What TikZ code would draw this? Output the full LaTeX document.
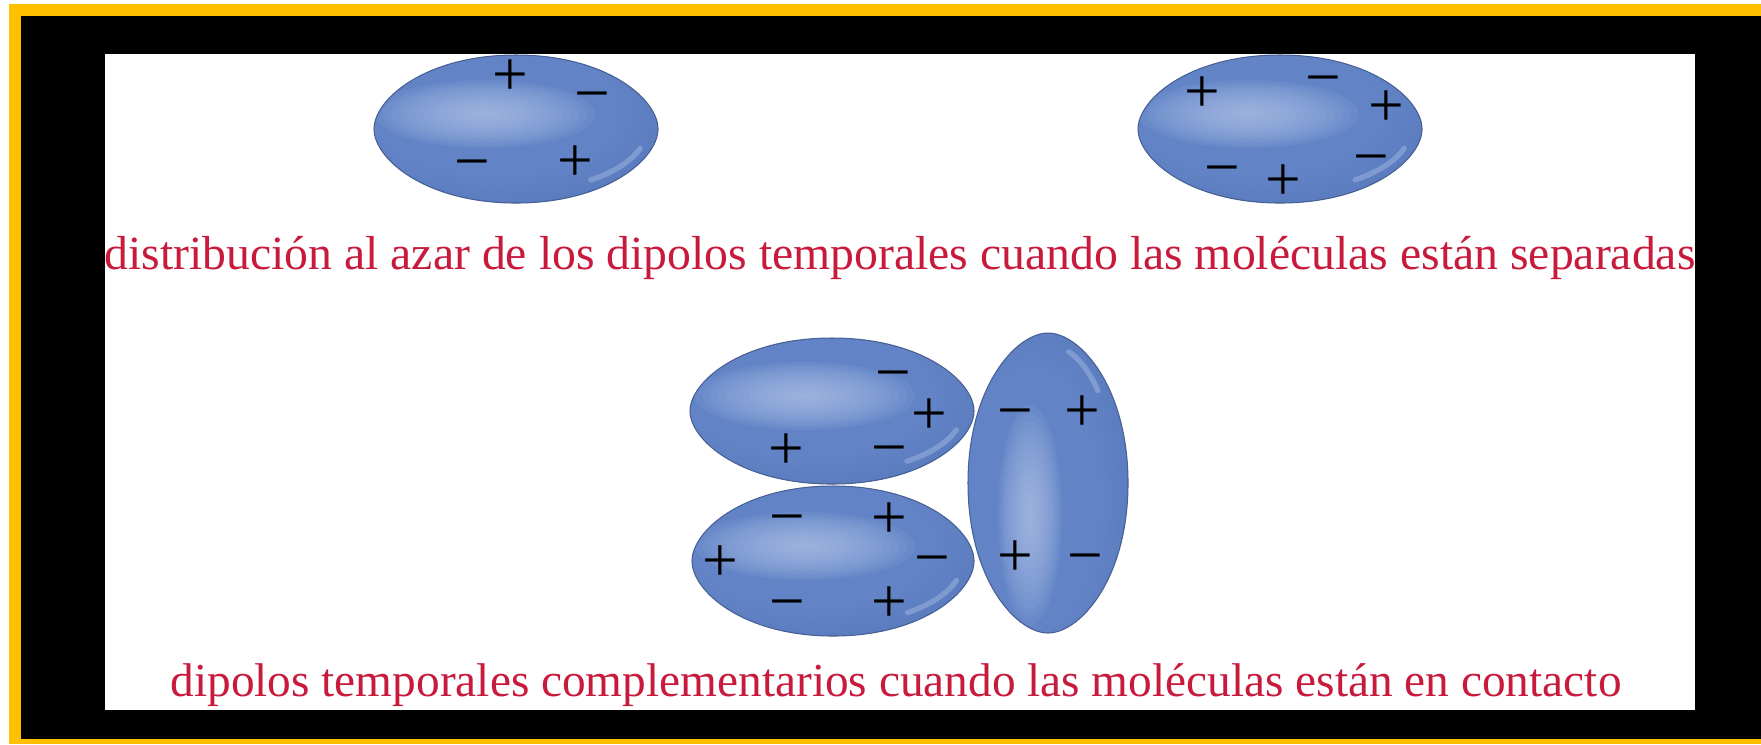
\documentclass[tikz,border=0pt]{standalone}
\usepackage{fontspec}
\setmainfont{Liberation Serif}
\newfontfamily\signfont{Liberation Serif}

\definecolor{frameyellow}{RGB}{255,192,0}
\definecolor{capred}{RGB}{200,26,60}
\definecolor{molbase}{RGB}{98,132,198}
\definecolor{molmid}{RGB}{82,114,180}
\definecolor{moldark}{RGB}{64,93,156}
\definecolor{mollight}{RGB}{180,198,236}
\definecolor{molline}{RGB}{72,96,148}

% body colour, lighter up and to the left, darker towards the rim
\pgfdeclareradialshading{molrim}{\pgfpoint{-6bp}{9bp}}{%
  color(0bp)=(molbase); color(22bp)=(molbase); color(40bp)=(molmid);
  color(50bp)=(moldark); color(70bp)=(moldark)}
\pgfdeclareradialshading{molrimv}{\pgfpoint{-8bp}{-4bp}}{%
  color(0bp)=(molbase); color(22bp)=(molbase); color(40bp)=(molmid);
  color(50bp)=(moldark); color(70bp)=(moldark)}

% a pointed ellipse: centre (#1,#2), radii #3,#4, end tightness #5,#6
\newcommand\lemonpath[6]{({#1+#3},{#2})
  .. controls ({#1+#3},{#2+#5*#4}) and ({#1+#6*#3},{#2+#4}) .. ({#1},{#2+#4})
  .. controls ({#1-#6*#3},{#2+#4}) and ({#1-#3},{#2+#5*#4}) .. ({#1-#3},{#2})
  .. controls ({#1-#3},{#2-#5*#4}) and ({#1-#6*#3},{#2-#4}) .. ({#1},{#2-#4})
  .. controls ({#1+#6*#3},{#2-#4}) and ({#1+#3},{#2-#5*#4}) .. ({#1+#3},{#2}) -- cycle}

% soft highlight: stacked translucent ellipses, centre (#1,#2), radii #3,#4
\newcommand\glow[4]{%
  \foreach \k in {1,...,14}{%
    \fill[mollight, opacity=0.09] (#1,#2) ellipse [x radius={#3*(1-(\k-1)/14)}, y radius={#4*(1-(\k-1)/14)}];}%
}

% one molecule: shape #1-#6, shading name #7, highlight centre and radii #8
\newcommand\molecule[8]{%
  \fill[molbase] \lemonpath{#1}{#2}{#3}{#4}{#5}{#6};
  \begin{scope}
    \clip \lemonpath{#1}{#2}{#3}{#4}{#5}{#6};
    \shade[shading=#7] ({#1-#3},{#2-#4}) rectangle ({#1+#3},{#2+#4});
    \glow#8
  \end{scope}
  \draw[molline, line width=0.3pt] \lemonpath{#1}{#2}{#3}{#4}{#5}{#6};
}

\newcommand\plusg{+}
\newcommand\minusg{\vphantom{+}−}

\tikzset{
  sign/.style={font=\signfont\fontsize{18pt}{18pt}\selectfont, inner sep=0pt, text=black},
  caption/.style={font=\fontsize{13pt}{13pt}\selectfont, text=capred, inner sep=0pt, anchor=base},
  rim/.style={mollight, line width=1.5pt, line cap=round, opacity=0.4}
}

\begin{document}
\begin{tikzpicture}[x=0.01cm, y=-0.01cm]
  \useasboundingbox (0,0) rectangle (1761,744);

  % frame: black mat with a yellow edge on the left, top and bottom
  \fill[white] (0,0) rectangle (1761,744);
  \fill[black] (21,16) rectangle (1761,739);
  \fill[frameyellow] (8.5,4) rectangle (21,744);
  \fill[frameyellow] (8.5,4) rectangle (1761,16);
  \fill[frameyellow] (8.5,739) rectangle (1761,744);
  \fill[white] (105,54) rectangle (1695,710);

  % molecules far apart
  \molecule{516}{129}{142}{74}{0.40}{0.64}{molrim}{{485}{114}{110}{34}}
  \draw[rim] plot[domain=18:55, samples=20] ({516+0.92*142*cos(\x)}, {129+0.84*74*sin(\x)});
  \molecule{1280}{129}{142}{74}{0.40}{0.64}{molrim}{{1249}{114}{110}{34}}
  \draw[rim] plot[domain=18:55, samples=20] ({1280+0.92*142*cos(\x)}, {129+0.84*74*sin(\x)});

  % molecules in contact
  \molecule{832}{411}{142}{73}{0.40}{0.64}{molrim}{{805}{396}{110}{34}}
  \draw[rim] plot[domain=18:55, samples=20] ({832+0.92*142*cos(\x)}, {411+0.84*73*sin(\x)});
  \molecule{833}{561}{141}{75}{0.40}{0.64}{molrim}{{805}{546}{110}{34}}
  \draw[rim] plot[domain=18:55, samples=20] ({833+0.92*141*cos(\x)}, {561+0.84*75*sin(\x)});
  \molecule{1048}{483}{80}{150}{0.64}{0.40}{molrimv}{{1030}{515}{32}{110}}
  \draw[rim] plot[domain=-72:-42, samples=20] ({1048+0.84*80*cos(\x)}, {483+0.92*150*sin(\x)});

  % charges, upper left molecule
  \node[sign] (a1) at (510,78) {\plusg};
  \node[sign] (a2) at (592,97) {\minusg};
  \node[sign] (a3) at (472,165) {\minusg};
  \node[sign] (a4) at (575,164) {\plusg};

  % charges, upper right molecule
  \node[sign] (b1) at (1202,95) {\plusg};
  \node[sign] (b2) at (1323,81) {\minusg};
  \node[sign] (b3) at (1386,109) {\plusg};
  \node[sign] (b4) at (1222,171) {\minusg};
  \node[sign] (b5) at (1283,183) {\plusg};
  \node[sign] (b6) at (1371,160) {\minusg};

  % charges, top molecule of the pair
  \node[sign] (c1) at (893,376) {\minusg};
  \node[sign] (c2) at (929,417) {\plusg};
  \node[sign] (c3) at (786,452) {\plusg};
  \node[sign] (c4) at (889,451) {\minusg};

  % charges, bottom molecule of the pair
  \node[sign] (d1) at (787,520) {\minusg};
  \node[sign] (d2) at (889,521) {\plusg};
  \node[sign] (d3) at (720,564) {\plusg};
  \node[sign] (d4) at (932,561) {\minusg};
  \node[sign] (d5) at (787,605) {\minusg};
  \node[sign] (d6) at (889,605) {\plusg};

  % charges, upright molecule
  \node[sign] (e1) at (1015,414) {\minusg};
  \node[sign] (e2) at (1082,414) {\plusg};
  \node[sign] (e3) at (1015,559) {\plusg};
  \node[sign] (e4) at (1085,559) {\minusg};

  % captions
  \node[caption] (cap1) at (900,269)
    {\resizebox{15.9cm}{!}{distribución al azar de los dipolos temporales cuando las moléculas están separadas}};
  \node[caption] (cap2) at (896,696)
    {\resizebox{14.5cm}{!}{dipolos temporales complementarios cuando las moléculas están en contacto}};
\end{tikzpicture}
\end{document}
